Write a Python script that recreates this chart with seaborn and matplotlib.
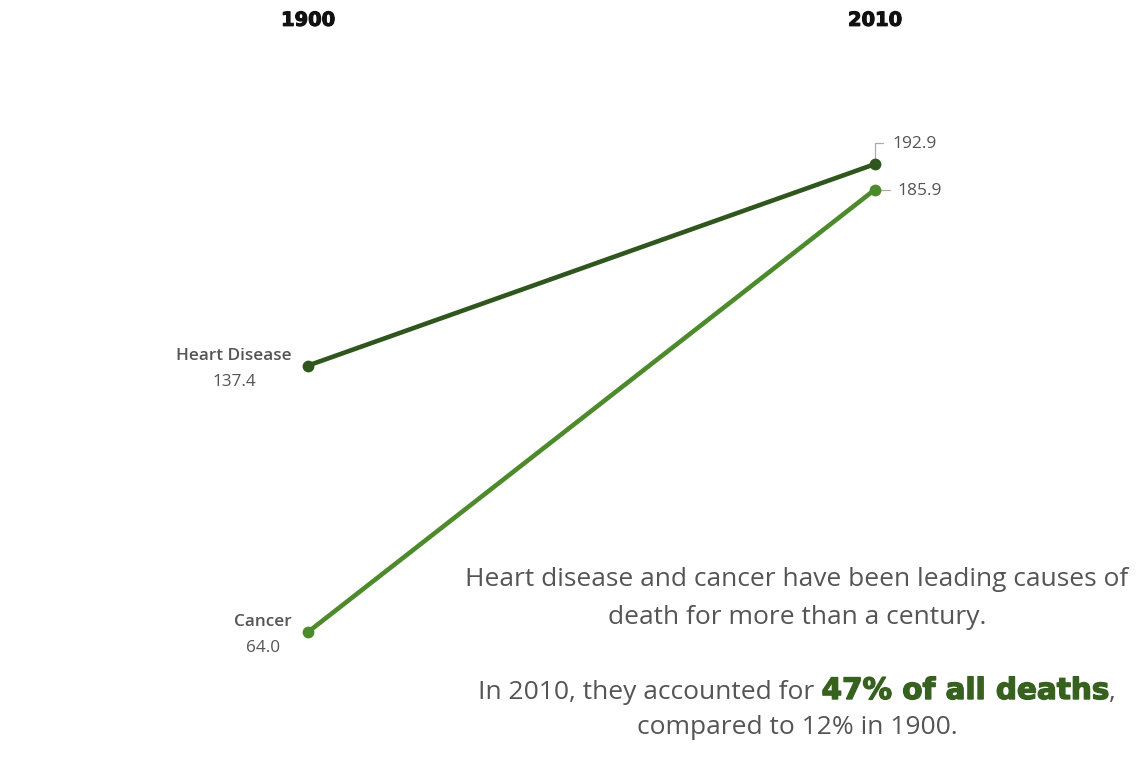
import matplotlib
matplotlib.use("Agg")
import matplotlib.pyplot as plt
import matplotlib.patheffects as pe
import seaborn as sns
import pandas as pd

# Death rates per 100,000 for the two leading causes
years = [1900, 2010]
causes = ["Heart Disease", "Cancer"]
heart_disease = [137.4, 192.9]
cancer = [64.0, 185.9]
year_labels = ["1900", "2010"]

line_colors = {"Heart Disease": "#2f561c", "Cancer": "#4c8a2b"}
gray = "#555555"
W, H = 1148, 770

df = pd.DataFrame({
    "year": years * 2,
    "rate": heart_disease + cancer,
    "cause": [causes[0]] * 2 + [causes[1]] * 2,
})

sns.set_theme(style="white")
plt.rcParams["font.family"] = ["Open Sans", "DejaVu Sans"]

fig = plt.figure(figsize=(W / 100, H / 100), dpi=100, facecolor="white")
ax = fig.add_axes([0, 0, 1, 1])

sns.lineplot(data=df, x="year", y="rate", hue="cause", palette=line_colors,
             linewidth=3.3, marker="o", markersize=8.5, markeredgewidth=0,
             legend=False, ax=ax)

ax.set_xlim(1840.25, 2062.96)
ax.set_ylim(26.0, 238.1)
ax.axis("off")

renderer = fig.canvas.get_renderer()
heavy = [pe.withStroke(linewidth=0.8, foreground="#111111")]


def to_px(x, y):
    px, py = ax.transData.transform((x, y))
    return px, py


# Year headers
for yr, lab in zip(years, year_labels):
    ax.text(yr, 232.5, lab, ha="center", va="center", fontsize=14,
            fontweight="bold", family="DejaVu Sans", color="#111111",
            path_effects=heavy)

# Left-side labels at 1900: bold name over a centred value
for name, vals in zip(causes, [heart_disease, cancer]):
    px, py = to_px(years[0], vals[0])
    right = px - 16
    t = fig.text(right / W, (py + 10) / H, name, ha="right", va="center",
                 fontsize=12.3, color=gray, fontweight="semibold")
    w = t.get_window_extent(renderer).width
    fig.text((right - w / 2) / W, (py - 16) / H, f"{vals[0]:.1f}", ha="center",
             va="center", fontsize=12.3, color=gray)

# Right-side value labels with leader lines at 2010
hd_end = heart_disease[1]
ca_end = cancer[1]
ax.plot([years[1], years[1], years[1] + 1.5], [hd_end + 1.5, hd_end + 5.8, hd_end + 5.8],
        color="#aaaaaa", lw=0.9, zorder=1)
ax.text(years[1] + 3.4, hd_end + 5.5, f"{hd_end:.1f}", ha="left", va="center",
        fontsize=12.5, color=gray)
ax.plot([years[1] + 1.0, years[1] + 2.9], [ca_end, ca_end],
        color="#aaaaaa", lw=0.9, zorder=1)
ax.text(years[1] + 4.4, ca_end - 0.3, f"{ca_end:.1f}", ha="left", va="center",
        fontsize=12.5, color=gray)

# Annotation block
cx = 797
fs = 19
fig.text(cx / W, 1 - 580 / H, "Heart disease and cancer have been leading causes of",
         ha="center", va="center", fontsize=fs, color=gray)
fig.text(cx / W, 1 - 617 / H, "death for more than a century.",
         ha="center", va="center", fontsize=fs, color=gray)
fig.text(cx / W, 1 - 727 / H, "compared to 12% in 1900.",
         ha="center", va="center", fontsize=fs, color=gray)

# Mixed-style line: regular text with a bold green highlight
pieces = [
    ("In 2010, they accounted for ", dict(fontsize=fs, color=gray)),
    ("47% of all deaths", dict(fontsize=21.2, color="#36611f", fontweight="bold",
                                family="DejaVu Sans",
                                path_effects=[pe.withStroke(linewidth=1.0,
                                                            foreground="#36611f")])),
    (",", dict(fontsize=fs, color=gray)),
]
arts = []
widths = []
for txt, kw in pieces:
    t = fig.text(0, 1 - 690 / H, txt, ha="left", va="baseline", **kw)
    arts.append(t)
    widths.append(t.get_window_extent(renderer).width)
total = sum(widths)
x0 = cx - total / 2
baseline_y = 1 - 699 / H
for t, w in zip(arts, widths):
    t.set_position((x0 / W, baseline_y))
    x0 += w

fig.savefig("out.png", dpi=100, facecolor="white")
